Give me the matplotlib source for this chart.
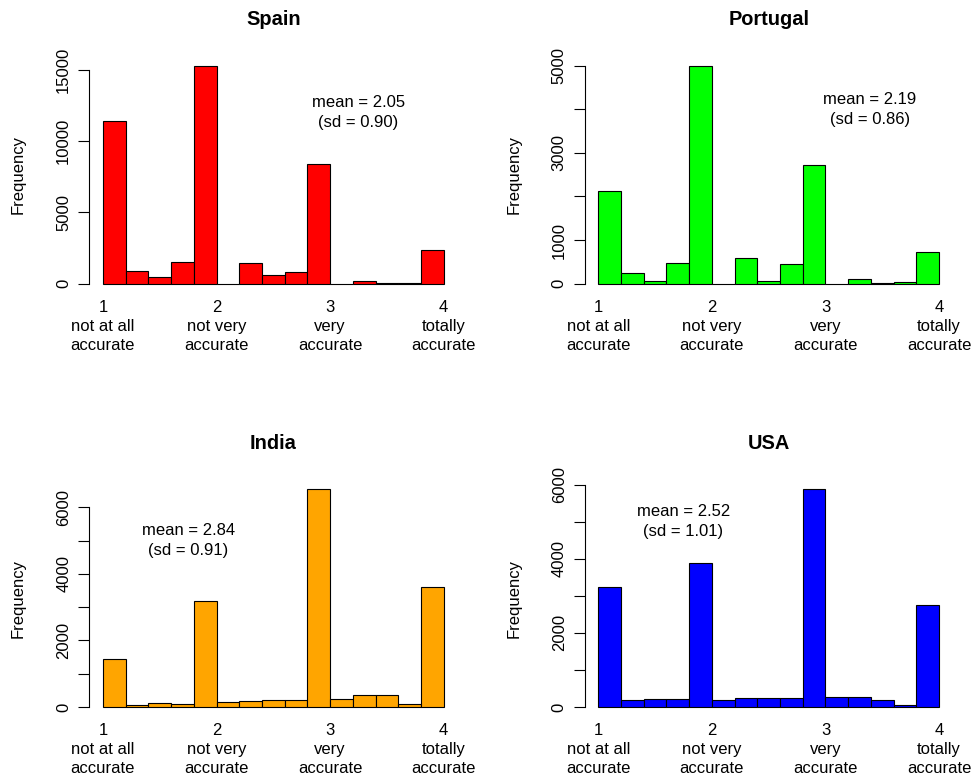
import matplotlib
matplotlib.use("Agg")
import matplotlib.pyplot as plt
import numpy as np

plt.rcParams['font.family'] = ['Liberation Sans', 'DejaVu Sans']
plt.rcParams['font.size'] = 12

# ---- data ----
breaks = [1.0, 1.2, 1.4, 1.6, 1.8, 2.0, 2.2, 2.4, 2.6, 2.8, 3.0, 3.2, 3.4, 3.6, 3.8, 4.0]

countries = ["Spain", "Portugal", "India", "USA"]
colors = ["#FF0000", "#00FF00", "#FFA500", "#0000FF"]

spain_counts = [11430, 876, 438, 1520, 15280, 0, 1450, 645, 806, 8390, 0, 207, 69, 46, 2400]
portugal_counts = [2130, 238, 61, 483, 4990, 0, 590, 69, 444, 2720, 0, 100, 10, 46, 736]
india_counts = [1440, 50, 111, 100, 3200, 141, 171, 211, 201, 6540, 242, 363, 363, 81, 3600]
usa_counts = [3250, 190, 208, 226, 3890, 199, 235, 253, 253, 5870, 262, 271, 190, 63, 2740]

means = ["2.05", "2.19", "2.84", "2.52"]
sds = ["0.90", "0.86", "0.91", "1.01"]

xtick_values = [1, 2, 3, 4]
xtick_descr = ["not at all\naccurate", "not very\naccurate", "very\naccurate", "totally\naccurate"]

spain_yticks = [0, 5000, 10000, 15000]
spain_ylabels = ["0", "5000", "10000", "15000"]
portugal_yticks = [0, 1000, 2000, 3000, 4000, 5000]
portugal_ylabels = ["0", "1000", "", "3000", "", "5000"]
india_yticks = [0, 1000, 2000, 3000, 4000, 5000, 6000]
india_ylabels = ["0", "", "2000", "", "4000", "", "6000"]
usa_yticks = [0, 1000, 2000, 3000, 4000, 5000, 6000]
usa_ylabels = ["0", "", "2000", "", "4000", "", "6000"]

all_counts = [spain_counts, portugal_counts, india_counts, usa_counts]
all_yticks = [spain_yticks, portugal_yticks, india_yticks, usa_yticks]
all_ylabels = [spain_ylabels, portugal_ylabels, india_ylabels, usa_ylabels]

# annotation anchor (data coords)
annot_x = [3.25, 3.39, 1.75, 1.75]
annot_y = [12000, 4000, 5000, 5000]

# ---- layout ----
fig = plt.figure(figsize=(9.75, 7.81), dpi=100)
W, H = 975.0, 781.0
lefts = [89.3, 584.7, 89.3, 584.7]
tops = [57.4, 57.4, 480.7, 480.7]
aw, ah = 368.0, 235.0

edges = np.array(breaks)
widths = np.diff(edges)

for i in range(4):
    ax = fig.add_axes([lefts[i] / W, 1 - (tops[i] + ah) / H, aw / W, ah / H])
    counts = np.array(all_counts[i], dtype=float)
    ax.bar(edges[:-1], counts, width=widths, align='edge', color=colors[i],
           edgecolor='black', linewidth=0.8)
    ymax = counts.max()
    ax.set_xlim(edges[0] - 0.04 * (edges[-1] - edges[0]), edges[-1] + 0.04 * (edges[-1] - edges[0]))
    ax.set_ylim(-0.04 * ymax, 1.04 * ymax)

    for s in ['top', 'right', 'bottom']:
        ax.spines[s].set_visible(False)
    ax.spines['left'].set_bounds(all_yticks[i][0], all_yticks[i][-1])
    ax.spines['left'].set_linewidth(0.8)

    ax.set_yticks(all_yticks[i])
    ax.set_yticklabels(all_ylabels[i], rotation=90, va='center')
    ax.tick_params(axis='y', length=8, width=0.8, pad=5, labelsize=12)

    ax.set_xticks(xtick_values)
    ax.set_xticklabels([f"{v}\n{d}" for v, d in zip(xtick_values, xtick_descr)],
                       linespacing=1.33)
    ax.tick_params(axis='x', length=0, pad=5.5, labelsize=12)

    ax.set_title(countries[i], fontweight='bold', fontsize=14.4, pad=23)
    ax.text(-0.193, 0.5, "Frequency", rotation=90, ha='center', va='center',
            transform=ax.transAxes, fontsize=12)
    ax.text(annot_x[i], annot_y[i], f"mean = {means[i]}\n(sd = {sds[i]})",
            ha='center', va='center', fontsize=12, linespacing=1.42)

fig.savefig("out.png", dpi=100)
